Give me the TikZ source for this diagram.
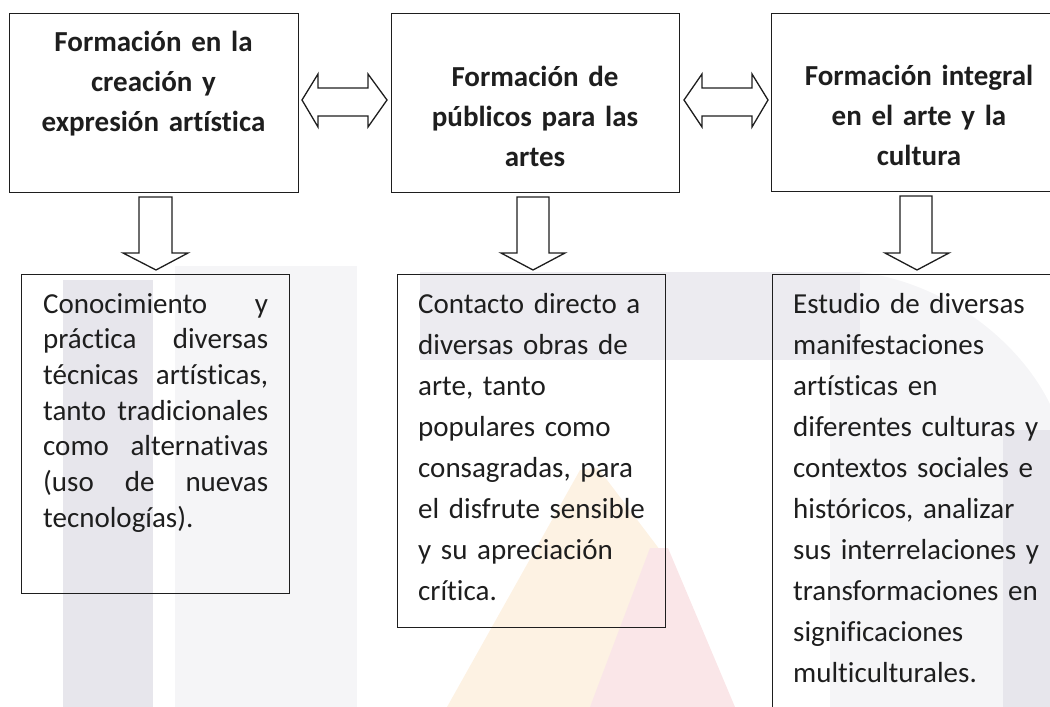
\documentclass[tikz,border=0pt]{standalone}
\usepackage{fontspec}
\setmainfont{Carlito}[Ligatures={NoCommon}]
\definecolor{wmgray}{HTML}{E7E6EC}
\definecolor{wmlight}{HTML}{F5F5F7}
\definecolor{wmband}{HTML}{ECEBF0}
\definecolor{wmorange}{HTML}{FDF2E3}
\definecolor{wmred}{HTML}{FAE6E8}
\definecolor{ink}{HTML}{1E1E1E}
\newcommand{\jline}[1]{\makebox[225pt][l]{#1}}
\begin{document}
\begin{tikzpicture}[x=1pt,y=-1pt,
  box/.style={draw=ink, line width=1.3pt, inner sep=0pt, anchor=north west},
  blk/.style={draw=ink, line width=1.3pt, fill=white, line join=miter},
  toptext/.style={font=\fontsize{29}{40}\bfseries\selectfont, text=ink, text width=300pt, align=center, inner sep=0pt, anchor=base},
  bottext/.style={font=\fontsize{29}{#1}\selectfont, text=ink, text width=250pt, align=left, inner sep=0pt, anchor=base west}
]
\useasboundingbox (0,0) rectangle (1050,707);
% watermark
\fill[wmgray] (63,280) rectangle (153,707);
\fill[wmlight] (175,266) rectangle (357,707);
\fill[wmband] (420,272) rectangle (860,360);
\fill[wmlight] (860,272) .. controls (960,285) and (1040,360) .. (1060,430) -- (1060,707) -- (830,707) -- (830,360) -- (860,360) -- cycle;
\fill[wmgray] (1003,430) rectangle (1060,707);
\fill[wmorange] (580,470) -- (598,468) -- (660,550) -- (590,707) -- (447,707) -- cycle;
\fill[wmred] (650,548) -- (668,548) -- (735,707) -- (590,707) -- cycle;
% top boxes
\node[box, minimum width=289pt, minimum height=179pt] (b1) at (9,13) {};
\node[box, minimum width=288pt, minimum height=179pt] (b2) at (391,13) {};
\node[box, minimum width=300pt, minimum height=178pt] (b3) at (771,13) {};
\node[toptext] (t1) at (153.5,51.7) {Formación en la\\creación y\\expresión artística};
\node[toptext] (t2) at (535,86) {Formación de\\públicos para las\\artes};
\node[toptext] (t3) at (919,85) {Formación integral\\en el arte y la\\cultura};
% bottom boxes
\node[box, minimum width=268pt, minimum height=319pt] (b4) at (21,274) {};
\node[box, minimum width=268pt, minimum height=353pt] (b5) at (397,274) {};
\node[box, minimum width=300pt, minimum height=450pt] (b6) at (772,274) {};
\node[bottext=35.7] (t4) at (43,313) {\jline{Conocimiento\hfill y}\\\jline{práctica\hfill diversas}\\\jline{técnicas\hfill artísticas,}\\\jline{tanto\hfill tradicionales}\\\jline{como\hfill alternativas}\\\jline{(uso\hfill de\hfill nuevas}\\tecnologías).};
\node[bottext=41] (t5) at (418,313) {Contacto directo a\\diversas obras de\\arte, tanto\\populares como\\consagradas, para\\el disfrute sensible\\y su apreciación\\crítica.};
\node[bottext=41.1] (t6) at (793,313) {Estudio de diversas\\manifestaciones\\artísticas en\\diferentes culturas y\\contextos sociales e\\históricos, analizar\\sus interrelaciones y\\transformaciones en\\significaciones\\multiculturales.};
% double arrows
\draw[blk] (302,100) -- (318,74) -- (318,88) -- (368,88) -- (368,74) -- (387,100) -- (368,127) -- (368,116) -- (318,116) -- (318,127) -- cycle;
\draw[blk] (684,100) -- (702,74) -- (702,88) -- (752,88) -- (752,74) -- (768,100) -- (752,127) -- (752,116) -- (702,116) -- (702,127) -- cycle;
% down arrows
\draw[blk] (139,197) -- (172,197) -- (172,253) -- (188,253) -- (156,270) -- (123,253) -- (139,253) -- cycle;
\draw[blk] (517,197) -- (549,197) -- (549,253) -- (565,253) -- (533,270) -- (501,253) -- (517,253) -- cycle;
\draw[blk] (900,196) -- (932,196) -- (932,253) -- (949,253) -- (917,270) -- (885,253) -- (900,253) -- cycle;
\end{tikzpicture}
\end{document}
